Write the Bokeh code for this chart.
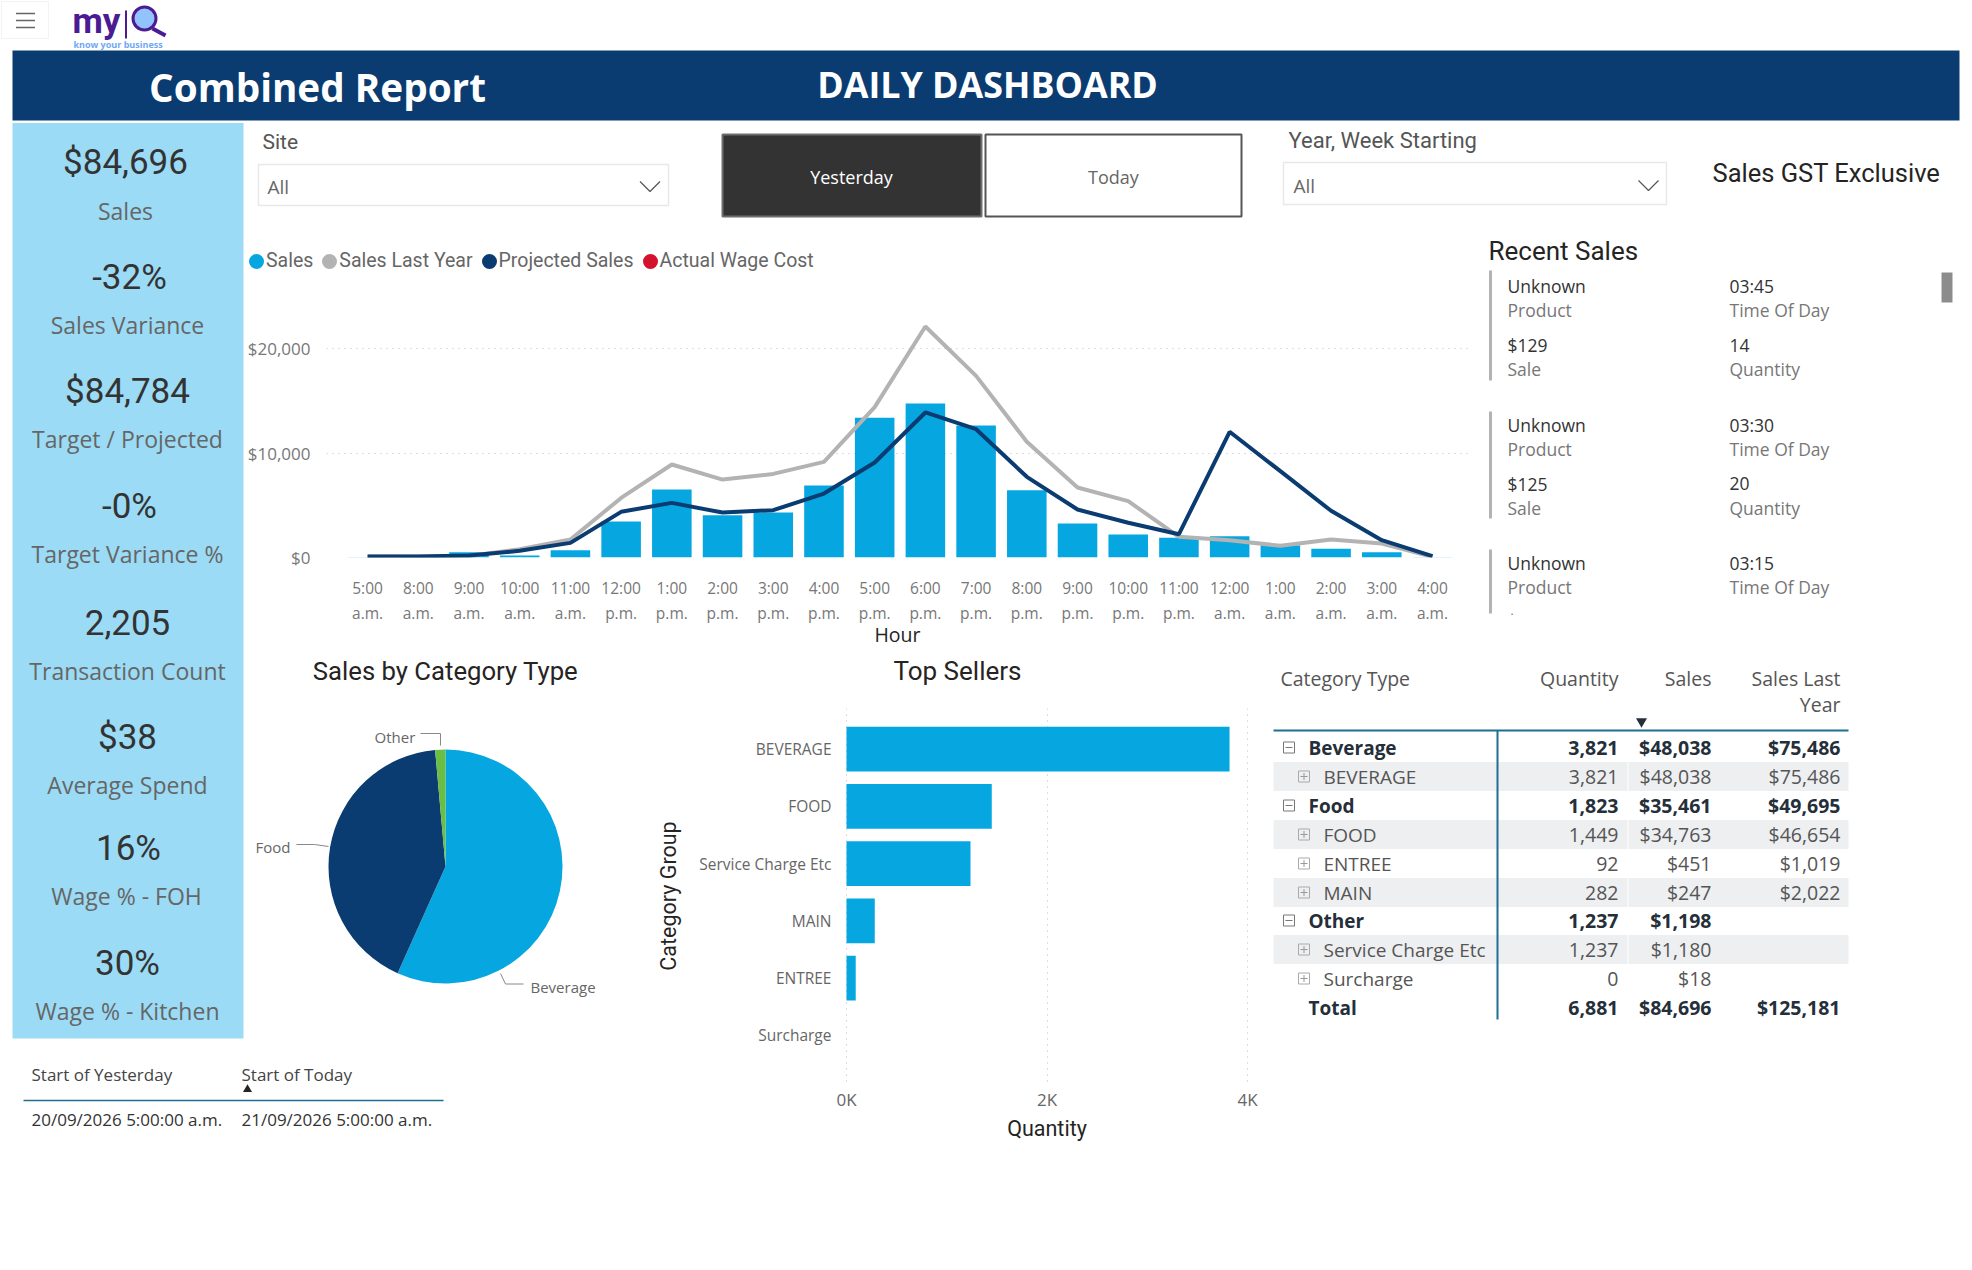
from bokeh.core.properties import value
from bokeh.embed import file_html
from bokeh.resources import INLINE
from bokeh.layouts import column, row
from bokeh.models import Range1d, FixedTicker, NumeralTickFormatter, Legend, LegendItem, GridBox
from bokeh.plotting import figure
import numpy as np

# ---------- data ----------
hours = ["5:00\na.m.", "8:00\na.m.", "9:00\na.m.", "10:00\na.m.", "11:00\na.m.", "12:00\np.m.",
         "1:00\np.m.", "2:00\np.m.", "3:00\np.m.", "4:00\np.m.", "5:00\np.m.", "6:00\np.m.",
         "7:00\np.m.", "8:00\np.m.", "9:00\np.m.", "10:00\np.m.", "11:00\np.m.", "12:00\na.m.",
         "1:00\na.m.", "2:00\na.m.", "3:00\na.m.", "4:00\na.m."]
sales = [30, 50, 500, 190, 700, 3445, 6500, 4050, 4300, 6890, 13365, 14740,
         12630, 6440, 3250, 2200, 1900, 2040, 1180, 830, 510, 20]
sales_last_year = [100, 100, 150, 800, 1720, 5700, 8900, 7460, 8000, 9150, 14390, 22100,
                   17380, 11070, 6700, 5390, 1980, 1660, 1120, 1720, 1340, 60]
projected_sales = [90, 100, 190, 640, 1400, 4370, 5230, 4300, 4530, 6120, 9090, 13880,
                   12280, 7720, 4590, 3320, 2230, 12030, 8260, 4470, 1660, 130]
series_names = ["Sales", "Sales Last Year", "Projected Sales", "Actual Wage Cost"]

pie_labels = ["Beverage", "Food", "Other"]
pie_values = [48038, 35461, 1198]

seller_names = ["BEVERAGE", "FOOD", "Service Charge Etc", "MAIN", "ENTREE", "Surcharge"]
seller_qty = [3821, 1449, 1237, 282, 92, 0]

kpi_values = ["$84,696", "-32%", "$84,784", "-0%", "2,205", "$38", "16%", "30%"]
kpi_labels = ["Sales", "Sales Variance", "Target / Projected", "Target Variance %",
              "Transaction Count", "Average Spend", "Wage % - FOH", "Wage % - Kitchen"]

recent_col1 = [["Unknown", "Product", "$129", "Sale"], ["Unknown", "Product", "$125", "Sale"], ["Unknown", "Product"]]
recent_col2 = [["03:45", "Time Of Day", "14", "Quantity"], ["03:30", "Time Of Day", "20", "Quantity"], ["03:15", "Time Of Day"]]

table_head = ["Category Type", "Quantity", "Sales", "Sales Last", "Year"]
table_rows = [
    ("Beverage", "3,821", "$48,038", "$75,486"),
    ("BEVERAGE", "3,821", "$48,038", "$75,486"),
    ("Food", "1,823", "$35,461", "$49,695"),
    ("FOOD", "1,449", "$34,763", "$46,654"),
    ("ENTREE", "92", "$451", "$1,019"),
    ("MAIN", "282", "$247", "$2,022"),
    ("Other", "1,237", "$1,198", ""),
    ("Service Charge Etc", "1,237", "$1,180", ""),
    ("Surcharge", "0", "$18", ""),
    ("Total", "6,881", "$84,696", "$125,181"),
]
row_kind = ["g", "c", "g", "c", "c", "c", "g", "c", "c", "t"]

dates_head = ["Start of Yesterday", "Start of Today"]
dates_vals = ["20/09/2026 5:00:00 a.m.", "21/09/2026 5:00:00 a.m."]

# ---------- styles ----------
UI = "Open Sans"
DIN = "Roboto"
NAVY = "#0A3C71"
BLUE = "#06A7E0"
GREY = "#B3B3B3"
RED = "#D2122E"
PANEL = "#9BDBF5"
TEAL = "#1F6E94"
GREEN = "#6ABD45"
DOTS = [1, 5]
DOTC = "#BDBDBD"


def canvas(x0, x1, y0, y1):
    p = figure(width=x1 - x0, height=y1 - y0, x_range=Range1d(x0, x1), y_range=Range1d(y1, y0),
               output_backend="svg", toolbar_location=None, min_border=0,
               x_axis_location=None, y_axis_location=None)
    p.grid.visible = False
    p.outline_line_color = None
    p.border_fill_color = "white"
    return p


def T(p, x, y, s, size, color, align="left", font=UI, style="normal", base="middle"):
    p.text([x], [y], text=[s], text_font=value(font), text_font_size=f"{size}px", text_color=color,
           text_align=align, text_baseline=base, text_font_style=style)


def box(p, x0, x1, y0, y1, fill=None, line=None, w=1):
    p.quad(left=[x0], right=[x1], top=[y0], bottom=[y1], fill_color=fill, line_color=line,
           line_width=w, fill_alpha=1 if fill else 0)


def L(p, xs, ys, color, w=1, **kw):
    p.line(xs, ys, line_color=color, line_width=w, **kw)


# ---------- top banner ----------
top = canvas(0, 1964, 0, 122)
box(top, 12, 1959, 50, 120, fill=NAVY)
box(top, 1, 48, 1, 38, line="#F3F3F3")
for yy in (13, 20, 27):
    L(top, [15.5, 34.5], [yy, yy], "#666666", 1.5)
T(top, 72, 21, "my", 35, "#4B1B94", font=DIN, style="bold")
L(top, [125.5, 125.5], [10, 38], "#4B1B94", 2)
top.circle([144], [18], radius=11.5, fill_color="#93C3FC", line_color="#4B1B94", line_width=3)
L(top, [152, 165], [28, 35], "#4B1B94", 4)
T(top, 73, 43.5, "know your business", 9, "#6FA8F5", style="bold")
T(top, 317, 86, "Combined Report", 38.7, "white", "center", style="bold")
T(top, 987, 83, "DAILY DASHBOARD", 35.8, "white", "center", style="bold")

# ---------- KPI panel ----------
kpi_y = [(162, 210), (277, 324), (391, 438), (506, 553), (622, 670), (737, 784), (848, 895), (963, 1010)]
kpi_x = [(125, 125), (129, 127), (127, 127), (129, 127), (127, 127), (127, 127), (128, 126), (127, 127)]

k1 = canvas(0, 244, 122, 1040)
box(k1, 12, 243, 122.5, 1038, fill=PANEL)
for v, l, (yv, yl), (xv, xl) in zip(kpi_values, kpi_labels, kpi_y, kpi_x):
    T(k1, xv, yv, v, 35, "#333333", "center", font=DIN)
    T(k1, xl, yl, l, 23, "#666666", "center")

# ---------- controls ----------
ctl = canvas(244, 1964, 122, 238)
T(ctl, 262, 141, "Site", 21, "#555555", font=DIN)
box(ctl, 258, 668, 164, 205, fill="white", line="#E8E8E8", w=1.5)
T(ctl, 267, 186, "All", 19, "#666666")
L(ctl, [639.5, 649.5, 659.5], [181, 191, 181], "#555555", 1.2)
box(ctl, 722, 981, 134, 216, fill="#333333", line="#6E6E6E", w=2)
T(ctl, 851, 176, "Yesterday", 18, "white", "center")
box(ctl, 985, 1241, 134, 216, fill="white", line="#555555", w=2)
T(ctl, 1113, 176, "Today", 18, "#666666", "center")
T(ctl, 1288, 140, "Year, Week Starting", 22, "#555555", font=DIN)
box(ctl, 1283, 1666, 162, 204, fill="white", line="#E8E8E8", w=1.5)
T(ctl, 1293, 185, "All", 19, "#666666")
L(ctl, [1638, 1648, 1658], [180, 190, 180], "#555555", 1.2)
T(ctl, 1712, 172, "Sales GST Exclusive", 25.5, "#252423", font=DIN)

# ---------- legend strip ----------
lg = canvas(244, 1480, 238, 288)
items = []
for name, c in zip(series_names, [BLUE, GREY, NAVY, RED]):
    r = lg.scatter(x=[np.nan], y=[np.nan], marker="circle", fill_color=c, line_color=c, line_width=7)
    items.append(LegendItem(label=value(name), renderers=[r], index=0))
leg = Legend(items=items, orientation="horizontal", location=(2, 16), margin=0, padding=0,
             background_fill_alpha=0, border_line_color=None, glyph_width=20, glyph_height=20,
             label_standoff=0, spacing=6, label_text_font=DIN, label_text_font_size="19.5px",
             label_text_color="#666666", label_height=20)
lg.add_layout(leg, "center")

# ---------- hourly chart ----------
xs = np.arange(len(hours))
chart = figure(width=1236, height=364, output_backend="svg", toolbar_location=None,
               x_range=Range1d(-0.81, 21.71), y_range=Range1d(0, 25742),
               min_border_left=80, min_border_right=12, min_border_top=0, min_border_bottom=95)
chart.outline_line_color = None
chart.xgrid.visible = False
chart.ygrid.grid_line_color = DOTC
chart.ygrid.grid_line_dash = DOTS
chart.ygrid.ticker = FixedTicker(ticks=[0, 10000, 20000])
chart.vbar(x=xs, top=sales, width=0.78, fill_color=BLUE, line_color=None)
chart.line(xs, sales_last_year, line_color=GREY, line_width=4)
chart.line(xs, projected_sales, line_color=NAVY, line_width=4)
ax = chart.xaxis[0]
ax.ticker = FixedTicker(ticks=list(range(len(hours))))
ax.major_label_overrides = {int(i): h for i, h in enumerate(hours)}
ax.axis_line_color = None
ax.major_tick_line_color = None
ax.minor_tick_line_color = None
ax.major_label_text_font = UI
ax.major_label_text_font_size = "15.5px"
ax.major_label_text_color = "#777777"
ax.major_label_text_line_height = 1.18
ax.major_label_standoff = 13
ax.axis_label = "Hour"
ax.axis_label_text_font = UI
ax.axis_label_text_font_size = "19.5px"
ax.axis_label_text_font_style = "normal"
ax.axis_label_text_color = "#252423"
ax.axis_label_standoff = -6
ay = chart.yaxis[0]
ay.ticker = FixedTicker(ticks=[0, 10000, 20000])
ay.formatter = NumeralTickFormatter(format="$0,0")
ay.axis_line_color = None
ay.major_tick_line_color = None
ay.minor_tick_line_color = None
ay.major_label_text_font = UI
ay.major_label_text_font_size = "17px"
ay.major_label_text_color = "#777777"
ay.major_label_standoff = 10

# ---------- recent sales ----------
rec = canvas(1480, 1964, 238, 650)
T(rec, 1488, 250, "Recent Sales", 26, "#252423", font=DIN)
for y0, y1 in ((270, 380), (411, 518), (549, 613)):
    L(rec, [1490, 1490], [y0, y1], GREY, 3)
box(rec, 1941, 1952, 272, 302, fill="#8C8C8C")
blocks_y = [[285.5, 309.4, 344.6, 368.5], [424, 448, 483, 507], [562, 586]]
for col, xc in ((recent_col1, 1507), (recent_col2, 1729)):
    for blk, ys in zip(col, blocks_y):
        for j, (s, yy) in enumerate(zip(blk, ys)):
            T(rec, xc, yy, s, 17.5, "#333333" if j % 2 == 0 else "#777777")
T(rec, 1510, 610, ".", 12, "#777777")

# ---------- pie ----------
low = canvas(244, 640, 650, 1040)
T(low, 445, 670, "Sales by Category Type", 25.7, "#252423", "center", font=DIN)
pie_total = float(sum(pie_values))
angle = np.pi / 2
for v, c in zip(pie_values, [BLUE, NAVY, GREEN]):
    next_angle = angle - 2 * np.pi * v / pie_total
    low.wedge(x=[445], y=[866], radius=117, start_angle=angle, end_angle=next_angle,
              direction="clock", fill_color=c, line_color=None)
    angle = next_angle
T(low, 374, 736, pie_labels[2], 15, "#666666")
L(low, [420, 440, 440], [733, 733, 745], "#888888", 1)
T(low, 255, 846, pie_labels[1], 15, "#666666")
L(low, [296, 314, 328], [844, 844, 846], "#888888", 1)
T(low, 530, 986, pie_labels[0], 15, "#666666")
L(low, [500, 505, 523], [973, 983.5, 983.5], "#888888", 1)

# ---------- dates table ----------
dt = canvas(0, 640, 1040, 1262)
for s, xx in zip(dates_head, (31, 241)):
    T(dt, xx, 1074, s, 17, "#444444")
dt.scatter([247], [1089], marker="triangle", size=9, fill_color="#252423", line_color=None)
L(dt, [23, 443], [1100, 1100], TEAL, 1.5)
for s, xx in zip(dates_vals, (31, 241)):
    T(dt, xx, 1119, s, 17, "#333333")

# ---------- top sellers ----------
ts = canvas(640, 1260, 650, 700)
T(ts, 957, 670, "Top Sellers", 26, "#252423", "center", font=DIN)
ypos = np.arange(len(seller_names))
bars = figure(width=620, height=562, output_backend="svg", toolbar_location=None,
              x_range=Range1d(-20, 4020), y_range=Range1d(5.84, -0.71),
              min_border_left=204, min_border_right=11, min_border_top=8, min_border_bottom=179)
bars.outline_line_color = None
bars.ygrid.visible = False
bars.xgrid.grid_line_color = DOTC
bars.xgrid.grid_line_dash = DOTS
bars.xgrid.ticker = FixedTicker(ticks=[0, 2000, 4000])
bars.hbar(y=ypos, right=seller_qty, height=0.78, left=0, fill_color=BLUE, line_color=None)
bx = bars.xaxis[0]
bx.ticker = FixedTicker(ticks=[0, 2000, 4000])
bx.major_label_overrides = {0: "0K", 2000: "2K", 4000: "4K"}
bx.axis_label = "Quantity"
by = bars.yaxis[0]
by.ticker = FixedTicker(ticks=list(range(len(seller_names))))
by.major_label_overrides = {int(i): n for i, n in enumerate(seller_names)}
by.axis_label = "Category Group"
for a, sz in ((bx, "17px"), (by, "15.5px")):
    a.axis_line_color = None
    a.major_tick_line_color = None
    a.minor_tick_line_color = None
    a.major_label_text_font = UI
    a.major_label_text_font_size = sz
    a.major_label_text_color = "#666666"
    a.axis_label_text_font = DIN
    a.axis_label_text_font_size = "21.5px"
    a.axis_label_text_font_style = "normal"
    a.axis_label_text_color = "#252423"
bx.major_label_standoff = -2
bx.axis_label_standoff = 2
by.major_label_standoff = 7
by.axis_label_standoff = 15

# ---------- matrix table ----------
tb = canvas(1260, 1964, 650, 1262)
T(tb, 1280, 678, table_head[0], 19.5, "#555555")
T(tb, 1618, 678, table_head[1], 19.5, "#555555", "right")
T(tb, 1711, 678, table_head[2], 19.5, "#555555", "right")
T(tb, 1840, 678, table_head[3], 19.5, "#555555", "right")
T(tb, 1840, 704, table_head[4], 19.5, "#555555", "right")
tb.scatter([1641], [721], marker="inverted_triangle", size=11, fill_color="#252F3A", line_color=None)
row_y = [747, 776, 805, 834, 863, 892, 920, 949, 978, 1007]
for yy, kind, i in zip(row_y, row_kind, range(10)):
    if i in (1, 3, 5, 7):
        box(tb, 1273, 1848, yy - 14.5, yy + 14.5, fill="#EEEFF1")
        L(tb, [1627.5, 1627.5], [yy - 14.5, yy + 14.5], "white", 1)
L(tb, [1273, 1848], [730, 730], TEAL, 2)
L(tb, [1497, 1497], [730, 1019], TEAL, 2)
for r, kind, yy in zip(table_rows, row_kind, row_y):
    bold = kind in ("g", "t")
    col = "#252F3A" if bold else "#555555"
    fs = "bold" if bold else "normal"
    if kind == "g":
        box(tb, 1283, 1294, yy - 5.5, yy + 5.5, line="#777777", w=1)
        L(tb, [1285, 1292], [yy, yy], "#777777", 1)
    elif kind == "c":
        box(tb, 1298, 1309, yy - 5.5, yy + 5.5, line="#AAAAAA", w=1)
        L(tb, [1300, 1307], [yy, yy], "#999999", 1)
        L(tb, [1303.5, 1303.5], [yy - 3.5, yy + 3.5], "#999999", 1)
    T(tb, 1308 if bold else 1323, yy, r[0], 19, col, style=fs)
    for s, xr in zip(r[1:], (1618, 1711, 1840)):
        if s:
            T(tb, xr, yy, s, 19.5, col, "right", style=fs)

right_upper = column(ctl, row(column(lg, column(chart)), column(rec)))
right_lower = row(column(ts, column(bars)), column(tb))
page = GridBox(children=[
    (column(top), 0, 0, 1, 3),
    (column(k1), 1, 0, 2, 1),
    (right_upper, 1, 1, 1, 2),
    (column(low), 2, 1, 1, 1),
    (right_lower, 2, 2, 2, 1),
    (column(dt), 3, 0, 1, 2),
], rows=["122px", "528px", "390px", "222px"], cols=["244px", "396px", "1324px"])
open("out.html", "w").write(file_html(page, INLINE))
